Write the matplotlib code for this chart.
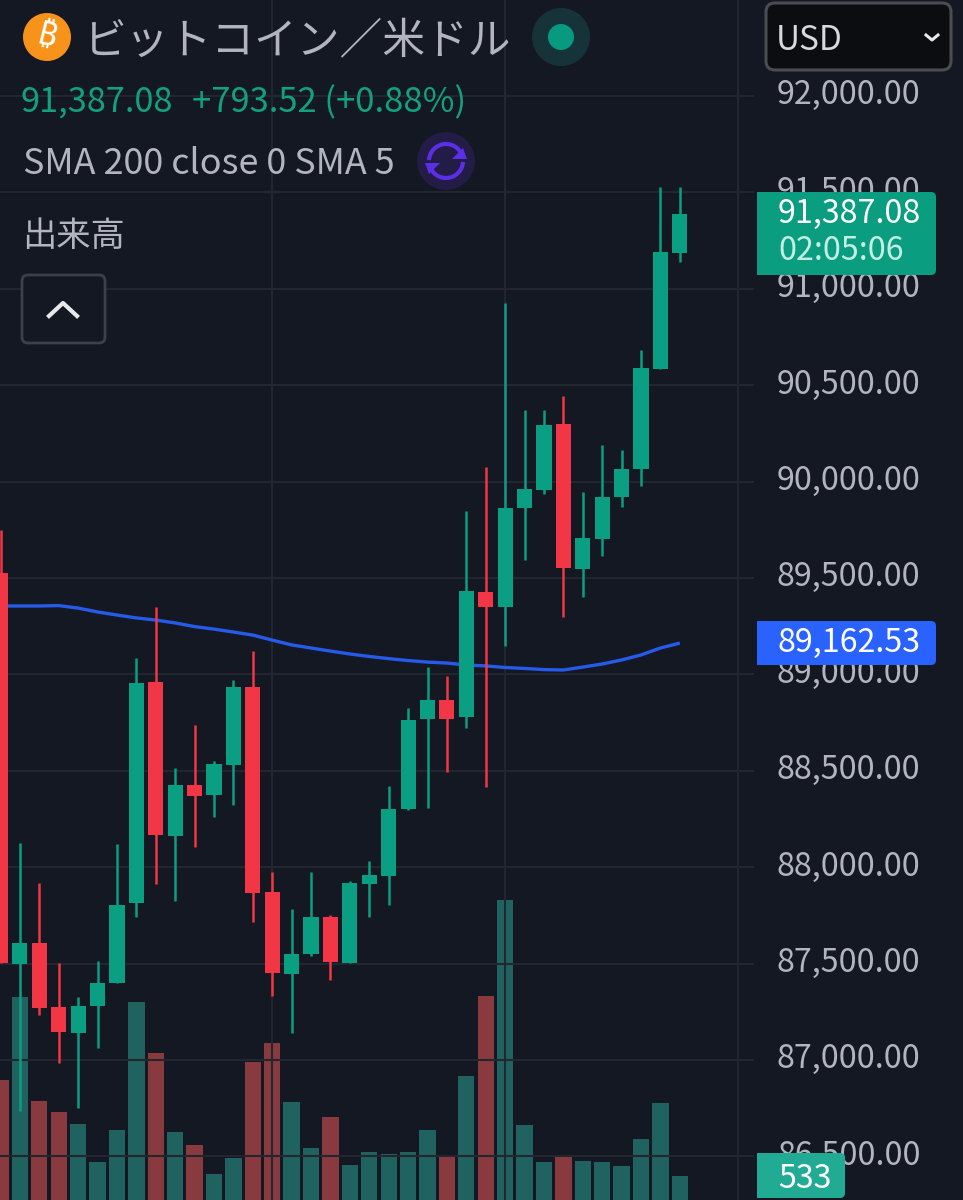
import numpy as np
import matplotlib
matplotlib.use("Agg")
import matplotlib.pyplot as plt
from matplotlib.patches import Circle, FancyBboxPatch, Polygon, Rectangle

plt.rcParams['font.family'] = ['Noto Sans CJK JP', 'DejaVu Sans']

# candle values
opens = [89526, 87498, 87607, 87275, 87140, 87280, 87399, 87814, 88961, 88162, 88426, 88375,
         88530, 88935, 87871, 87446, 87550, 87742, 87503, 87913, 87954, 88302, 88769, 88867,
         88779, 89427, 89350, 89863, 89956, 90299, 89547, 89702, 89920, 90065, 90584, 91186]
closes = [87503, 87607, 87270, 87145, 87280, 87399, 87804, 88955, 88167, 88426, 88369, 88535,
          88935, 87866, 87451, 87550, 87742, 87508, 87918, 87960, 88302, 88764, 88867, 88769,
          89433, 89350, 89863, 89962, 90294, 89552, 89707, 89920, 90065, 90589, 91191, 91387.08]
highs = [89749, 88126, 87918, 87503, 87327, 87513, 88120, 89085, 89350, 88515, 88738, 88551,
         88971, 89121, 87975, 87783, 87975, 87752, 87928, 88032, 88421, 88826, 89038, 88992,
         89848, 90076, 90926, 90371, 90371, 90444, 89946, 90190, 90164, 90683, 91528, 91528]
lows = [87503, 86736, 87233, 86984, 86751, 87062, 87399, 87742, 87913, 87825, 88105, 88260,
        88323, 87716, 87332, 87140, 87539, 87415, 87503, 87742, 87804, 88297, 88307, 88494,
        88722, 88416, 89147, 89593, 89936, 89298, 89401, 89614, 89868, 89977, 90584, 91139]
sma200 = [89355, 89355, 89355, 89357, 89344, 89324, 89308, 89293, 89282, 89267, 89248, 89235,
          89220, 89204, 89178, 89153, 89137, 89121, 89106, 89093, 89082, 89072, 89064, 89059,
          89049, 89044, 89036, 89031, 89025, 89023, 89038, 89054, 89075, 89101, 89137, 89162.53]
volumes = [2664, 4507, 2198, 1954, 1687, 844, 1554, 4396, 3263, 1510, 1221, 577,
           932, 3064, 3485, 2176, 1154, 1843, 777, 1066, 1021, 1066, 1554, 955,
           2753, 4529, 6660, 1665, 844, 977, 866, 844, 755, 1354, 2153, 533]
price_levels = [92000, 91500, 91000, 90500, 90000, 89500, 89000, 88500, 88000, 87500, 87000, 86500]
grid_candles = [14, 26, 38]

BG = "#141823"
UP = "#0A9F82"
DOWN = "#F23645"
GRID = "#22262F"
TEXT = "#B2B5BE"

fig = plt.figure(figsize=(9.63, 12), dpi=100, facecolor=BG)

idx = np.arange(len(opens))
xlim = (-0.026, 49.59)

# volume pane sits behind the price pane
ax_vol = fig.add_axes([0, 0, 1, 1], facecolor=BG)
vol_colors = ["#2DAD9C" if c >= o else "#FD5D5A" for o, c in zip(opens, closes)]
ax_vol.bar(idx, volumes, width=0.84, color=vol_colors, alpha=0.5)
ax_vol.set_xlim(xlim)
ax_vol.set_ylim(0, 26650)
ax_vol.axis("off")

ax = fig.add_axes([0, 0, 1, 1], facecolor="none")
ax.set_xlim(xlim)
ax.set_ylim(86274, 92498)
ax.axis("off")

ax.hlines(price_levels, 0, 754 / 963, transform=ax.get_yaxis_transform(), color=GRID, lw=1.5, zorder=1)
ax.vlines(grid_candles, 0, 1, transform=ax.get_xaxis_transform(), color=GRID, lw=1.5, zorder=1)

ax.plot(idx, sma200, color="#2962FF", lw=2.4, zorder=2, alpha=0.9, solid_capstyle="butt")

colors = [UP if c >= o else DOWN for o, c in zip(opens, closes)]
ax.vlines(idx, lows, highs, color=colors, lw=1.8, zorder=3)
bottoms = np.minimum(opens, closes)
heights = np.abs(np.array(closes) - np.array(opens))
ax.bar(idx, heights, bottom=bottoms, width=0.78, color=colors, zorder=4)

for level in price_levels:
    ax.annotate(f"{level:,.2f}", xy=(920.5 / 963, level), xycoords=("axes fraction", "data"),
                xytext=(0, 0.5), textcoords="offset points", ha="right", va="center",
                fontsize=23.2, color=TEXT, zorder=5)

# overlay in pixels for the header and the labels
ui = fig.add_axes([0, 0, 1, 1], facecolor="none")
ui.set_xlim(0, 963)
ui.set_ylim(1200, 0)
ui.axis("off")

ui.add_patch(Circle((47, 37), 24, color="#F7931A", lw=0))
ui.text(47, 37, "₿", color="white", fontsize=24, fontweight="bold", ha="center", va="center",
        rotation=-14, family=["Noto Sans", "Inter", "Roboto", "DejaVu Sans"])
ui.text(83, 41.5, "ビットコイン／米ドル", color=TEXT, fontsize=30.8, ha="left", va="center")
ui.add_patch(Circle((561, 37), 29, color="#17333A", lw=0))
ui.add_patch(Circle((561, 37), 13, color="#089981", lw=0))

ui.text(21, 102.5, "91,387.08", color="#12A07F", fontsize=24.7, ha="left", va="center")
ui.text(192, 102.5, "+793.52 (+0.88%)", color="#12A07F", fontsize=24.9, ha="left", va="center")
ui.text(23, 164.5, "SMA 200 close 0 SMA 5", color=TEXT, fontsize=25.9, ha="left", va="center")
ui.text(22, 236.5, "出来高", color=TEXT, fontsize=24.7, ha="left", va="center")

# purple refresh icon
ui.add_patch(Circle((446, 161), 29, color="#231C47", lw=0))
theta = np.radians(np.linspace(190, 340, 30))
ui.plot(446 + 17 * np.cos(theta), 161 + 17 * np.sin(theta), color="#5B2EE8", lw=3)
theta = np.radians(np.linspace(10, 160, 30))
ui.plot(446 + 17 * np.cos(theta), 161 + 17 * np.sin(theta), color="#5B2EE8", lw=3)
ui.add_patch(Polygon([(452, 159), (467, 159), (463, 148)], color="#5B2EE8", lw=0))
ui.add_patch(Polygon([(425, 163), (440, 163), (429, 174)], color="#5B2EE8", lw=0))

# collapse button
ui.add_patch(FancyBboxPatch((22, 275), 83, 68, boxstyle="round,pad=0,rounding_size=6",
                            fc=BG, ec="#3C404A", lw=2))
ui.plot([49, 63, 77], [316, 303, 316], color="#E8E8EC", lw=3)

# currency dropdown
ui.add_patch(FancyBboxPatch((766, 3), 185, 67, boxstyle="round,pad=0,rounding_size=9",
                            fc="#0C0D10", ec="#4A4C52", lw=2.2))
ui.text(776, 40.5, "USD", color="#D8D9DC", fontsize=24, ha="left", va="center")
ui.plot([926, 932, 938], [35, 40, 35], color="#E8E8EC", lw=2.2)

# price labels on the axis
ui.add_patch(Rectangle((757, 192), 60, 83, color="#0A9D80", lw=0, zorder=6))
ui.add_patch(FancyBboxPatch((757, 192), 179, 83, boxstyle="round,pad=0,rounding_size=5",
                            fc="#0A9D80", ec="none", zorder=6))
ui.text(920.5, 214, "91,387.08", color="white", fontsize=23.2, ha="right", va="center", zorder=7)
ui.text(778, 251, "02:05:06", color="#C4EEE4", fontsize=23.2, ha="left", va="center", zorder=7)

ui.add_patch(Rectangle((757, 621), 60, 44, color="#2962FF", lw=0, zorder=6))
ui.add_patch(FancyBboxPatch((757, 621), 179, 44, boxstyle="round,pad=0,rounding_size=5",
                            fc="#2962FF", ec="none", zorder=6))
ui.text(920.5, 643, "89,162.53", color="white", fontsize=23.2, ha="right", va="center", zorder=7)

ui.add_patch(Rectangle((757, 1153), 40, 45, color="#22AB94", lw=0, zorder=6))
ui.add_patch(FancyBboxPatch((757, 1153), 88, 45, boxstyle="round,pad=0,rounding_size=5",
                            fc="#22AB94", ec="none", zorder=6))
ui.text(805, 1179, "533", color="white", fontsize=23.2, ha="center", va="center", zorder=7)

fig.savefig("out.png", dpi=100, facecolor=BG)
